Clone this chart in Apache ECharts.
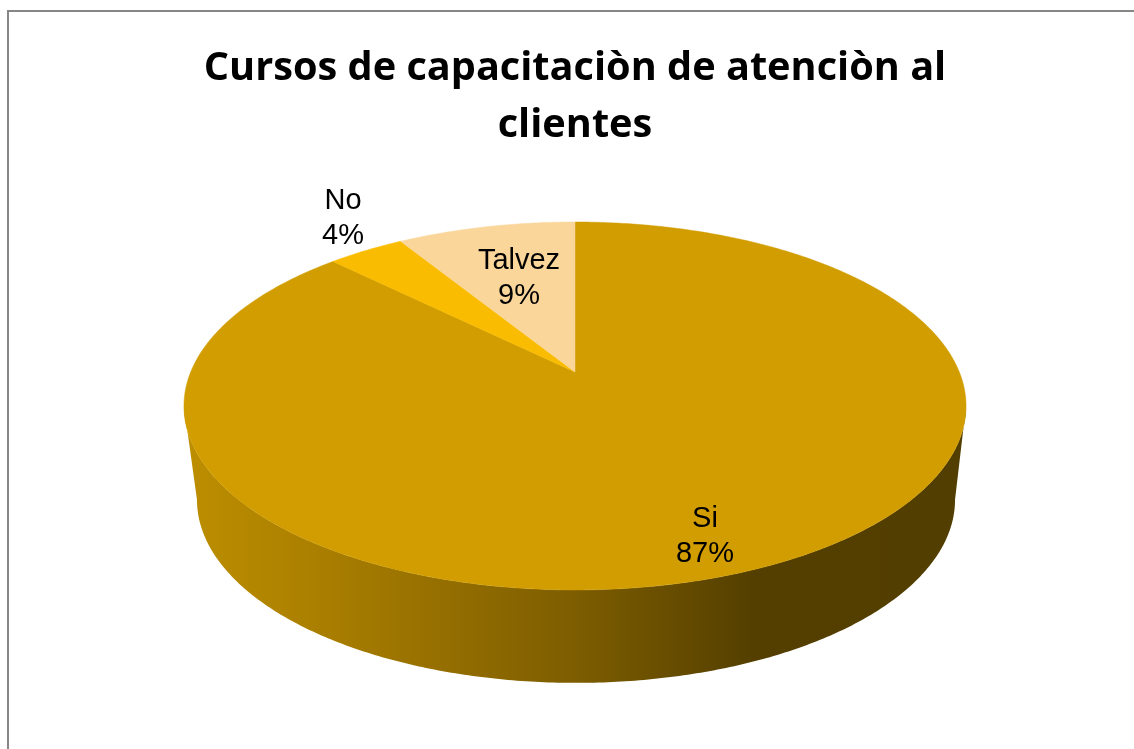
<!DOCTYPE html>
<html>
<head>
<meta charset="utf-8">
<title>Cursos de capacitación</title>
<style>
html,body{margin:0;padding:0;background:#fff;}
#chart{width:1134px;height:749px;}
</style>
<script src="https://cdn.jsdelivr.net/npm/echarts@6/dist/echarts.min.js"></script>
</head>
<body>
<div id="chart"></div>
<script>
//datos
var categories = ['Si', 'No', 'Talvez'];
var values = [87.4, 3.8, 8.8];
var colors = ['#d19d00', '#fabc00', '#fad69b'];
var labelPos = [[705, 536], [343, 218], [519, 278]];
var titleText = 'Cursos de capacitaciòn de atenciòn al\nclientes';

//pastel en perspectiva
var tilt = 0.1847;
var topDisc = {cx: 575, cy: 372, a: 384.3, b: 177.7};
var bottomDisc = {cx: 576, cy: 466, a: 372.5, b: 176.8};
var total = values.reduce(function (s, v) { return s + v; }, 0);
var nearStart = Math.PI / 2 + Math.asin(tilt);
var nearEnd = Math.PI * 2 - nearStart;

function project(disc, t) {
    var u = Math.sin(t), v = Math.cos(t), d = 1 + tilt * v;
    return [disc.cx + disc.a * u / d, disc.cy - disc.b * v / d];
}
function arc(disc, from, to) {
    var pts = [], n = Math.max(2, Math.ceil(Math.abs(to - from) / 0.01));
    for (var i = 0; i <= n; i++) {
        pts.push(project(disc, from + (to - from) * i / n));
    }
    return pts;
}

var wallColor = new echarts.graphic.LinearGradient(184, 0, 966, 0, [
    {offset: 0, color: '#bd8e00'},
    {offset: 0.15, color: '#ad8100'},
    {offset: 0.5, color: '#7d5d00'},
    {offset: 0.73, color: '#543f00'},
    {offset: 1, color: '#523e00'}
], true);

function renderSlice(params, api) {
    var i = params.dataIndex;
    var before = 0;
    for (var k = 0; k < i; k++) before += values[k];
    var t0 = before / total * Math.PI * 2;
    var t1 = (before + api.value(0)) / total * Math.PI * 2;
    var children = [];
    // pared lateral
    var w0 = Math.max(t0, nearStart), w1 = Math.min(t1, nearEnd);
    if (w1 > w0) {
        children.push({
            type: 'polygon',
            shape: {points: arc(topDisc, w0, w1).concat(arc(bottomDisc, w1, w0))},
            style: {fill: wallColor}
        });
    }
    // tapa
    children.push({
        type: 'polygon',
        shape: {points: [[topDisc.cx, topDisc.cy]].concat(arc(topDisc, t0, t1))},
        style: {fill: colors[i], stroke: colors[i], lineWidth: 0.5}
    });
    return {type: 'group', children: children};
}

function renderLabel(params, api) {
    var i = params.dataIndex;
    return {
        type: 'text',
        z2: 10,
        style: {
            x: labelPos[i][0],
            y: labelPos[i][1],
            text: categories[i] + '\n' + Math.round(api.value(0) / total * 100) + '%',
            fill: '#000',
            font: '29px "Liberation Sans", Arial, sans-serif',
            lineHeight: 35,
            align: 'center',
            verticalAlign: 'middle'
        }
    };
}

var myChart = echarts.init(document.getElementById('chart'), null, {renderer: 'canvas'});
var option = {
    animation: false,
    backgroundColor: '#fff',
    title: {
        text: titleText,
        left: 575,
        top: 40,
        padding: 0,
        textAlign: 'center',
        textStyle: {
            color: '#000',
            fontFamily: '"Open Sans", sans-serif',
            fontWeight: 'bold',
            fontSize: 39.7,
            lineHeight: 57
        }
    },
    graphic: [{
        type: 'rect',
        silent: true,
        shape: {x: 8, y: 11, width: 1300, height: 900},
        style: {fill: 'none', stroke: '#868686', lineWidth: 2}
    }],
    series: [{
        type: 'custom',
        coordinateSystem: 'none',
        silent: true,
        renderItem: renderSlice,
        data: values.map(function (v, i) { return {name: categories[i], value: [v]}; })
    }, {
        type: 'custom',
        coordinateSystem: 'none',
        silent: true,
        z: 5,
        renderItem: renderLabel,
        data: values.map(function (v, i) { return {name: categories[i], value: [v]}; })
    }]
};
myChart.setOption(option);
</script>
</body>
</html>
